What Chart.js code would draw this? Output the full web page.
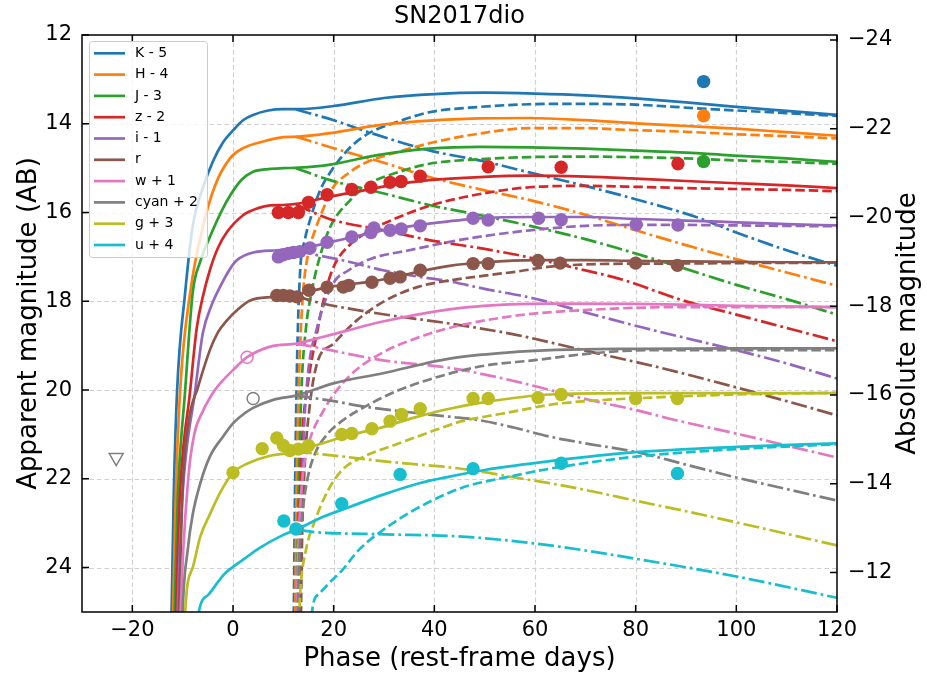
<!DOCTYPE html>
<html>
<head>
  <meta charset="UTF-8">
  <title>SN2017dio</title>
  <script src="https://cdn.jsdelivr.net/npm/chart.js"></script>
  <style>
    body { margin: 0; background: #fff; }
    #myChart { display: block; }
  </style>
</head>
<body>
  <canvas id="myChart" width="927" height="683"></canvas>
  <script>
    // band names and axis ticks
    const bandNames = ['K - 5', 'H - 4', 'J - 3', 'z - 2', 'i - 1', 'r', 'w + 1', 'cyan + 2', 'g + 3', 'u + 4'];
    const xTicks = [-20, 0, 20, 40, 60, 80, 100, 120];
    const appTicks = [12, 14, 16, 18, 20, 22, 24];
    const absTicks = [-24, -22, -20, -18, -16, -14, -12];
    const distMod = 36.11;

    // model totals (solid), [phase, mag]
    const K_total = [[-12.4,26],[-12.2,25],[-11.8,22.5],[-11.1,20],[-9.5,17.8],[-8,16.3],[-6,15.45],[-4,14.85],[-2,14.42],[0,14.15],[2,13.92],[4,13.8],[7,13.7],[10,13.67],[13,13.67],[20,13.6],[30,13.42],[40,13.33],[50,13.3],[60,13.32],[70,13.36],[80,13.43],[90,13.52],[100,13.62],[110,13.71],[120,13.8]];
    const H_total = [[-12.1,26],[-11.9,25],[-11.4,22.5],[-10.5,20],[-8.5,17.8],[-6,16.33],[-3.6,15.4],[-0.6,14.78],[2,14.55],[6,14.4],[10,14.3],[13,14.29],[19.3,14.21],[29,14.03],[39,13.93],[49,13.88],[59,13.87],[70,13.92],[80,13.99],[90,14.05],[100,14.11],[110,14.19],[120,14.27]];
    const J_total = [[-11.8,26],[-11.6,25],[-11,22.5],[-9.5,20],[-8,17.8],[-6.5,17.1],[-4.6,16.55],[-2.2,15.95],[-0.6,15.62],[1.8,15.25],[4,15.08],[7,15.02],[10,15.0],[13,14.99],[19.3,14.92],[29,14.7],[39,14.56],[49,14.52],[59,14.53],[70,14.56],[79,14.6],[90,14.65],[98.7,14.71],[110,14.78],[120,14.86]];
    const z_total = [[-11.5,26],[-11.3,25],[-10.6,22.5],[-8.5,20],[-7.2,18.6],[-6,17.9],[-4.6,17.3],[-3,16.8],[-1.2,16.44],[2,16.06],[5,15.9],[7.4,15.84],[10,15.83],[13,15.8],[19,15.65],[26,15.5],[32,15.37],[39,15.27],[49,15.2],[59,15.17],[70,15.19],[79,15.23],[90,15.29],[100,15.34],[110,15.39],[120,15.45]];
    const i_total = [[-11.2,26],[-11,25],[-10.1,22.5],[-7.5,20],[-6,18.72],[-4.3,18.1],[-2.6,17.68],[-0.6,17.27],[0.8,17.07],[4,16.9],[8.7,16.85],[12,16.83],[15,16.78],[20,16.65],[25,16.52],[30,16.4],[39,16.25],[49,16.13],[59,16.1],[70,16.1],[79,16.14],[90,16.18],[100,16.22],[110,16.26],[120,16.29]];
    const r_total = [[-10.9,26],[-10.7,25],[-10,22.2],[-8.8,20.7],[-7,19.95],[-4.6,19.1],[-3,18.7],[-1.2,18.43],[1,18.18],[3.4,17.98],[8,17.9],[12,17.87],[15,17.78],[19,17.68],[23,17.62],[27.6,17.55],[31,17.48],[37,17.33],[43,17.2],[50,17.12],[60,17.07],[70,17.07],[80,17.09],[90,17.1],[100,17.11],[110,17.12],[120,17.12]];
    const w_total = [[-10.6,26],[-10.4,25],[-8.9,22],[-7.7,21],[-6,20.48],[-3.6,20.0],[-2,19.78],[0,19.55],[2.8,19.26],[7.4,19.02],[12.7,18.95],[18,18.8],[23,18.65],[30,18.45],[43,18.18],[55,18.07],[63,18.05],[80,18.06],[100,18.1],[120,18.13]];
    const cyan_total = [[-10.2,26],[-10,25],[-9,23.6],[-8,22.8],[-6.5,22.1],[-4.6,21.5],[-2,21.05],[0,20.75],[2,20.55],[4,20.4],[8,20.22],[12.7,20.12],[19.9,19.85],[29.8,19.62],[43,19.29],[55,19.15],[63,19.1],[80,19.07],[100,19.06],[120,19.06]];
    const g_total = [[-9.7,26],[-9.5,25],[-8,24],[-6.5,23.3],[-4.6,22.8],[-2.5,22.3],[0,21.86],[3,21.65],[7.4,21.48],[12,21.4],[16.3,21.25],[22,21.05],[29.6,20.84],[36,20.62],[43,20.42],[50,20.27],[63,20.1],[80,20.07],[100,20.07],[120,20.07]];
    const u_total = [[-7.6,26],[-6.8,25],[-4.8,24.6],[-1.6,24.13],[0.4,23.95],[2.5,23.78],[5.4,23.55],[9.7,23.28],[13,23.12],[18,22.85],[23,22.64],[30,22.35],[37,22.1],[43,21.95],[50,21.8],[63,21.6],[80,21.4],[100,21.28],[120,21.2]];

    // second (late) component, dashed
    const K_late = [[12,26],[12.3,22.5],[12.7,19.5],[13.3,17.4],[14.3,16.6],[15.3,16.17],[17.3,15.5],[19.3,15.1],[23.3,14.53],[27.2,14.2],[32.6,13.96],[39,13.74],[49,13.62],[59,13.56],[70,13.55],[80,13.57],[92,13.65],[100,13.7],[110,13.76],[120,13.82]];
    const H_late = [[12.3,26],[12.6,22.5],[13.1,19.8],[13.8,18.0],[14.8,17.0],[16.3,16.4],[18,15.9],[19.9,15.43],[22.5,15.15],[25.9,14.9],[32.6,14.64],[39,14.44],[49,14.22],[59,14.1],[70,14.1],[79,14.14],[90,14.18],[98.7,14.23],[110,14.28],[120,14.33]];
    const J_late = [[12.6,26],[13,22.5],[13.6,20],[14.5,18.6],[15.6,17.8],[17,17.1],[19.3,16.33],[23.3,15.72],[27.2,15.34],[32.6,15.1],[39,14.9],[49,14.8],[59,14.75],[70,14.74],[79,14.75],[90,14.78],[98.7,14.82],[110,14.86],[120,14.9]];
    const z_late = [[12.8,26],[13.2,23],[13.8,21],[14.7,20],[16.7,18.7],[18.7,17.65],[20.3,17.15],[23,16.75],[27,16.42],[33,16.1],[39,15.85],[46,15.65],[59,15.43],[70,15.4],[80,15.42],[90,15.45],[100,15.47],[110,15.49],[120,15.52]];
    const i_late = [[13.3,26],[13.6,23],[14,21.2],[14.7,19.85],[16.7,18.6],[19.9,17.6],[23,17.3],[27.2,17.05],[35,16.85],[46,16.6],[59,16.4],[70,16.3],[79,16.28],[90,16.28],[100,16.29],[110,16.3],[120,16.31]];
    const r_late = [[13.4,26],[13.7,23.5],[14.2,21.8],[15.2,20.4],[16.7,19.4],[20,18.95],[24.6,18.43],[30,18.0],[36.6,17.68],[43,17.53],[50,17.42],[56.4,17.33],[63,17.22],[73,17.16],[85,17.15],[100,17.14],[120,17.13]];
    const w_late = [[12.5,26],[13,23.5],[13.8,22],[14.7,21.36],[18,20.46],[23,19.7],[29.8,19.15],[36,18.85],[43,18.6],[56.4,18.32],[69.6,18.2],[89,18.13],[100,18.13],[120,18.13]];
    const cyan_late = [[12.7,26],[13.1,24],[13.8,22.8],[14.8,22.0],[16.3,21.43],[18.7,21.0],[21.6,20.7],[26.6,20.35],[33,20.0],[43,19.63],[50,19.45],[59.6,19.33],[71.5,19.17],[82.9,19.1],[100,19.1],[120,19.1]];
    const g_late = [[13,25.5],[13.4,24.5],[14.5,23.6],[16.3,22.94],[18.7,22.3],[21.6,21.81],[26,21.5],[33,21.2],[39,20.95],[45.5,20.7],[50,20.6],[56.4,20.47],[63,20.33],[70,20.25],[83,20.17],[100,20.1],[120,20.06]];
    const u_late = [[15.4,26],[15.7,25],[17,24.6],[19.5,24.3],[21.6,24.07],[25,23.6],[29.6,23.17],[36,22.7],[45.5,22.2],[55,21.95],[63,21.77],[80,21.5],[100,21.33],[120,21.22]];

    // first (early) component after branching, dash-dot
    const K_early = [[12.5,13.68],[20,13.92],[27.2,14.2],[39,14.6],[50,14.85],[59,15.1],[70,15.4],[80,15.7],[92,16.1],[100,16.45],[110,16.85],[120,17.2]];
    const H_early = [[12.5,14.29],[20,14.55],[30,14.88],[39,15.2],[50,15.5],[59,15.72],[70,16.05],[80,16.4],[92,16.8],[100,17.05],[110,17.35],[120,17.65]];
    const J_early = [[12.5,15.0],[19.3,15.27],[30,15.57],[39,15.83],[50,16.08],[59,16.3],[70,16.6],[76.3,16.8],[89.4,17.25],[100,17.63],[110,17.95],[120,18.3]];
    const z_early = [[12.5,15.82],[19.3,16.15],[30,16.4],[39,16.62],[50,16.82],[58.4,17.0],[68,17.25],[77,17.5],[89.4,17.98],[100,18.3],[110,18.6],[120,18.9]];
    const i_early = [[12.5,16.85],[16.7,16.96],[22,17.08],[29.8,17.3],[36,17.43],[43,17.55],[50,17.72],[59.6,17.93],[70,18.25],[81,18.58],[90,18.83],[100,19.1],[110,19.4],[120,19.74]];
    const r_early = [[12.5,17.88],[16.7,18.02],[28.6,18.27],[43,18.5],[56,18.75],[69.6,19.1],[85,19.5],[100,19.94],[110,20.25],[120,20.57]];
    const w_early = [[12.5,18.95],[16.7,19.04],[29.8,19.33],[43,19.5],[56,19.8],[63,20.0],[70,20.2],[80,20.45],[88,20.68],[100,20.98],[110,21.25],[120,21.52]];
    const cyan_early = [[12.5,20.12],[20,20.25],[26.6,20.38],[35,20.5],[43,20.6],[49,20.68],[56,20.85],[63,21.05],[70,21.2],[80.3,21.4],[90,21.68],[100,21.97],[110,22.23],[120,22.49]];
    const g_early = [[12.5,21.38],[16.3,21.43],[22,21.5],[29.6,21.6],[36,21.67],[43,21.74],[50,21.85],[56,21.97],[63,22.1],[70,22.25],[80.3,22.5],[90,22.73],[100,22.98],[110,23.24],[120,23.5]];
    const u_early = [[13,23.15],[16.3,23.2],[30,23.25],[45.5,23.3],[63,23.5],[80,23.8],[100,24.2],[120,24.68]];

    // photometry (filled points)
    const K_obs = [[93.5,13.05]];
    const H_obs = [[93.5,13.82]];
    const J_obs = [[93.5,14.85]];
    const z_obs = [[9,16.0],[11,16.0],[13,16.0],[15,15.77],[18.7,15.6],[23.6,15.48],[27.4,15.43],[31.2,15.32],[33.4,15.3],[37.2,15.18],[50.7,14.97],[65.2,14.98],[88.4,14.9]];
    const i_obs = [[9,17.0],[10,16.95],[11,16.92],[12,16.9],[13.3,16.88],[15.3,16.8],[18.7,16.67],[23.6,16.55],[27.4,16.45],[28,16.35],[31.2,16.4],[33.4,16.37],[37.2,16.3],[47.7,16.13],[50.7,16.17],[60.7,16.13],[65.2,16.16],[80.1,16.27],[88.4,16.28]];
    const r_obs = [[8.7,17.87],[10,17.87],[11.3,17.88],[12.7,17.9],[15.1,17.75],[18.7,17.68],[21.9,17.68],[23,17.64],[27.6,17.57],[31.2,17.48],[33.2,17.45],[37.2,17.3],[47.7,17.15],[50.7,17.15],[60.6,17.08],[65,17.14],[80,17.14],[88.3,17.19]];
    const w_obs = [];
    const cyan_obs = [];
    const g_obs = [[0,21.86],[5.8,21.32],[8.7,21.08],[10,21.25],[11.3,21.36],[13,21.33],[15,21.25],[21.6,21.0],[23.6,20.98],[27.6,20.87],[31.2,20.7],[33.5,20.55],[37.2,20.42],[47.7,20.19],[50.7,20.19],[60.6,20.17],[65.2,20.1],[80,20.19],[88.3,20.19]];
    const u_obs = [[10.1,22.95],[12.5,23.13],[21.6,22.56],[33.2,21.9],[47.7,21.77],[65.2,21.65],[88.3,21.88]];

    // open symbols: single early points and the upper limit
    const w_open = [[2.8,19.26]];
    const cyan_open = [[4.0,20.19]];
    const upperLimit = [[-23.2,21.52]];

    const totals = [K_total, H_total, J_total, z_total, i_total, r_total, w_total, cyan_total, g_total, u_total];
    const lates = [K_late, H_late, J_late, z_late, i_late, r_late, w_late, cyan_late, g_late, u_late];
    const earlies = [K_early, H_early, J_early, z_early, i_early, r_early, w_early, cyan_early, g_early, u_early];
    const observed = [K_obs, H_obs, J_obs, z_obs, i_obs, r_obs, w_obs, cyan_obs, g_obs, u_obs];

    const colors = ['#1f77b4', '#ff7f0e', '#2ca02c', '#d62728', '#9467bd', '#8c564b', '#e377c2', '#7f7f7f', '#bcbd22', '#17becf'];
    const FONT = "'DejaVu Sans'";

    const toXY = arr => arr.map(p => ({ x: p[0], y: p[1] }));
    const minus = v => (v < 0 ? '\u2212' + Math.abs(v) : String(v));

    const datasets = [];
    function lineSet(pts, color, dash) {
      return {
        data: toXY(pts), showLine: true, borderColor: color, borderWidth: 2.7,
        borderDash: dash, pointRadius: 0, fill: false,
        cubicInterpolationMode: 'monotone', clip: 0
      };
    }
    for (let b = 0; b < bandNames.length; b++) {
      datasets.push(lineSet(totals[b], colors[b], []));
      datasets.push(lineSet(lates[b], colors[b], [9.5, 4]));
      datasets.push(lineSet(earlies[b], colors[b], [16, 4, 2.7, 4]));
      if (observed[b].length) {
        datasets.push({
          data: toXY(observed[b]), showLine: false, pointRadius: 6.7,
          pointBackgroundColor: colors[b], pointBorderWidth: 0, pointBorderColor: colors[b]
        });
      }
    }
    datasets.push({ data: toXY(w_open), showLine: false, pointRadius: 6, pointBorderWidth: 1.5,
      pointBorderColor: colors[6], pointBackgroundColor: 'rgba(0,0,0,0)' });
    datasets.push({ data: toXY(cyan_open), showLine: false, pointRadius: 6, pointBorderWidth: 1.5,
      pointBorderColor: colors[7], pointBackgroundColor: 'rgba(0,0,0,0)' });
    datasets.push({ data: toXY(upperLimit), showLine: false, pointStyle: 'triangle', rotation: 180,
      pointRadius: 8, pointBorderWidth: 1.5, pointBorderColor: colors[7], pointBackgroundColor: 'rgba(0,0,0,0)' });
    // later datasets on top, like matplotlib
    datasets.forEach((d, k) => { d.order = -k; });

    // grid, frame, inward ticks, legend, title and right label
    const decor = {
      id: 'decor',
      beforeDatasetsDraw(chart) {
        const { ctx, chartArea: a, scales } = chart;
        ctx.save();
        ctx.strokeStyle = '#d0d0d0';
        ctx.lineWidth = 1.2;
        ctx.setLineDash([4.5, 3]);
        xTicks.forEach(v => {
          const px = Math.round(scales.x.getPixelForValue(v)) + 0.5;
          if (px <= a.left + 1 || px >= a.right - 1) return;
          ctx.beginPath(); ctx.moveTo(px, a.top); ctx.lineTo(px, a.bottom); ctx.stroke();
        });
        appTicks.forEach(v => {
          const py = Math.round(scales.y.getPixelForValue(v)) + 0.5;
          if (py <= a.top + 1 || py >= a.bottom - 1) return;
          ctx.beginPath(); ctx.moveTo(a.left, py); ctx.lineTo(a.right, py); ctx.stroke();
        });
        ctx.restore();
      },
      afterDatasetsDraw(chart) {
        const { ctx, chartArea: a, scales } = chart;
        ctx.save();
        ctx.strokeStyle = '#000';
        ctx.lineWidth = 1.5;
        ctx.setLineDash([]);
        ctx.strokeRect(a.left, a.top, a.right - a.left, a.bottom - a.top);
        const tl = 7;
        ctx.beginPath();
        xTicks.forEach(v => {
          const px = scales.x.getPixelForValue(v);
          ctx.moveTo(px, a.bottom); ctx.lineTo(px, a.bottom - tl);
          ctx.moveTo(px, a.top); ctx.lineTo(px, a.top + tl);
        });
        appTicks.forEach(v => {
          const py = scales.y.getPixelForValue(v);
          ctx.moveTo(a.left, py); ctx.lineTo(a.left + tl, py);
        });
        absTicks.forEach(v => {
          const py = scales.y2.getPixelForValue(v);
          ctx.moveTo(a.right, py); ctx.lineTo(a.right - tl, py);
        });
        ctx.stroke();

        // legend
        const lx = 89, ly = 41, lw = 118, lh = 216;
        ctx.fillStyle = 'rgba(255,255,255,0.8)';
        ctx.strokeStyle = '#cccccc';
        ctx.lineWidth = 1;
        ctx.beginPath();
        ctx.roundRect(lx + 0.5, ly + 0.5, lw, lh, 3);
        ctx.fill(); ctx.stroke();
        ctx.font = '14px ' + FONT;
        ctx.textBaseline = 'middle';
        ctx.textAlign = 'left';
        bandNames.forEach((name, k) => {
          const y = 53.3 + k * 21.3;
          ctx.strokeStyle = colors[k];
          ctx.lineWidth = 2.7;
          ctx.beginPath(); ctx.moveTo(94, y); ctx.lineTo(125, y); ctx.stroke();
          ctx.fillStyle = '#000';
          ctx.fillText(name, 135, y);
        });

        // title
        ctx.fillStyle = '#000';
        ctx.font = '24px ' + FONT;
        ctx.textAlign = 'center';
        ctx.textBaseline = 'alphabetic';
        ctx.fillText('SN2017dio', (a.left + a.right) / 2, 23);

        // right axis label, reading bottom to top
        ctx.save();
        ctx.translate(908, (a.top + a.bottom) / 2);
        ctx.rotate(-Math.PI / 2);
        ctx.font = '26px ' + FONT;
        ctx.textBaseline = 'middle';
        ctx.fillText('Absolute magnitude', 0, 0);
        ctx.restore();
        ctx.restore();
      }
    };

    const tickFont = { family: FONT, size: 21 };
    const ctx = document.getElementById('myChart').getContext('2d');
    const myChart = new Chart(ctx, {
      type: 'scatter',
      data: { datasets: datasets },
      options: {
        responsive: false,
        animation: false,
        devicePixelRatio: 1,
        layout: { padding: { top: 35, left: 0, right: 0, bottom: 0 } },
        plugins: { legend: { display: false }, tooltip: { enabled: false }, title: { display: false } },
        scales: {
          x: {
            type: 'linear', position: 'bottom', min: -30, max: 120,
            afterBuildTicks: s => { s.ticks = xTicks.map(v => ({ value: v })); },
            afterFit: s => { s.height = 71; },
            grid: { display: false, drawTicks: false }, border: { display: false },
            ticks: { font: tickFont, color: '#000', padding: 6, maxRotation: 0, autoSkip: false, callback: v => minus(v) },
            title: { display: true, text: 'Phase (rest-frame days)', color: '#000',
              font: { family: FONT, size: 26 }, padding: { top: 0, bottom: 8 } }
          },
          y: {
            type: 'linear', position: 'left', reverse: true, min: 12, max: 25,
            afterBuildTicks: s => { s.ticks = appTicks.map(v => ({ value: v })); },
            afterFit: s => { s.width = 82; },
            grid: { display: false, drawTicks: false }, border: { display: false },
            ticks: { font: tickFont, color: '#000', padding: 10, autoSkip: false, callback: v => minus(v) },
            title: { display: true, text: 'Apparent magnitude (AB)', color: '#000',
              font: { family: FONT, size: 26 }, padding: { top: 14, bottom: 0 } }
          },
          y2: {
            type: 'linear', position: 'right', reverse: true, min: 12 - distMod, max: 25 - distMod,
            afterBuildTicks: s => { s.ticks = absTicks.map(v => ({ value: v })); },
            afterFit: s => { s.width = 90; },
            grid: { display: false, drawTicks: false }, border: { display: false },
            ticks: { font: tickFont, color: '#000', padding: 11, autoSkip: false, callback: v => minus(v) }
          }
        }
      },
      plugins: [decor]
    });
  </script>
</body>
</html>
